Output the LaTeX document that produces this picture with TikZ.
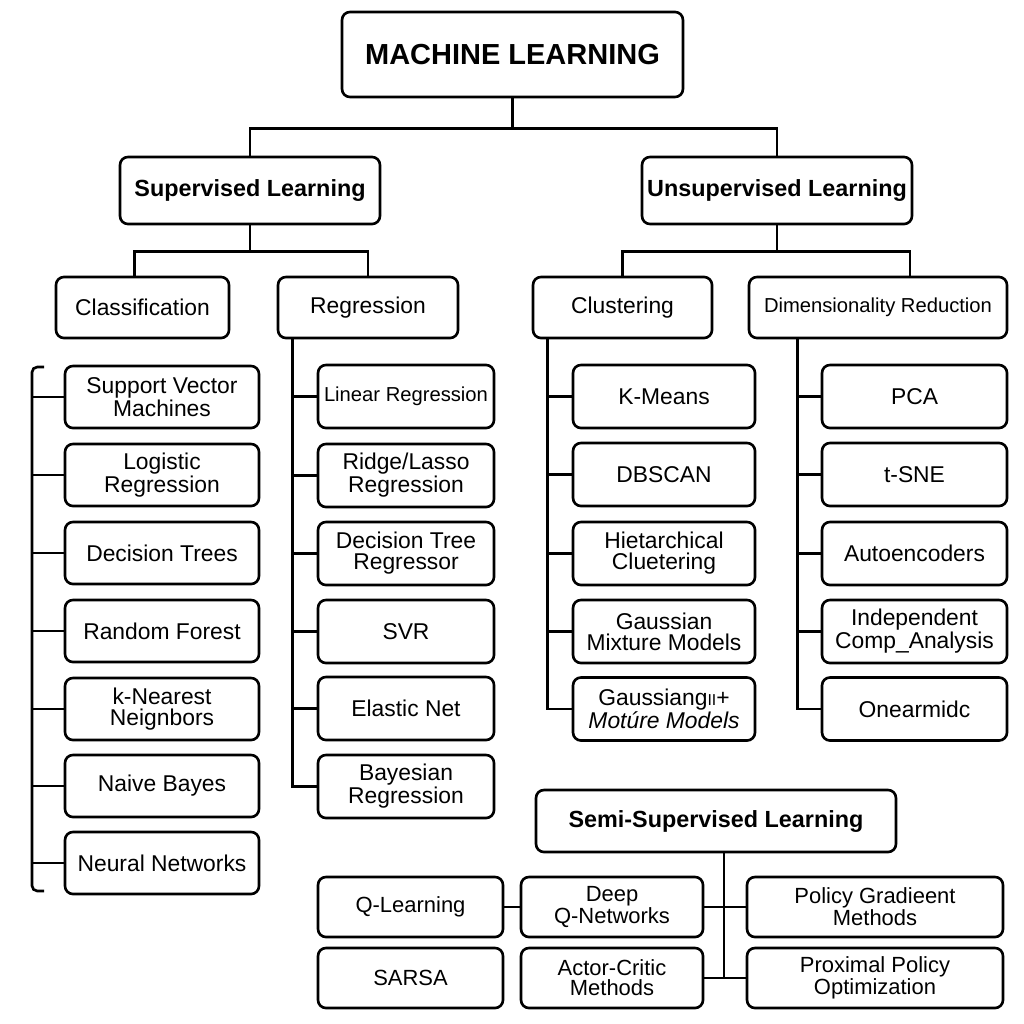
\documentclass[tikz,border=0pt]{standalone}
\usepackage{fontspec}
\setmainfont{Liberation Sans}
\usetikzlibrary{positioning,calc}

\begin{document}
\begin{tikzpicture}[x=0.02cm,y=-0.02cm,line width=1.5pt,
box/.style={draw,rounded corners=4.5pt,align=center,inner sep=1pt,
 font=\fontsize{13}{12}\selectfont},
head/.style={box,font=\fontsize{13.3}{15}\selectfont\bfseries,minimum height=1.34cm},
branch/.style={box,minimum height=1.22cm},
cbox/.style={box,minimum width=3.88cm,minimum height=1.24cm},
rbox/.style={box,minimum width=3.52cm,minimum height=1.26cm},
kbox/.style={box,minimum width=3.64cm,minimum height=1.26cm},
dbox/.style={box,minimum width=3.7cm,minimum height=1.26cm},
qbox/.style={box,minimum height=1.2cm,font=\fontsize{12.5}{11.5}\selectfont}]
\useasboundingbox (0,0) rectangle (1024,1024);

% top levels
\node[box,font=\fontsize{16.5}{18}\selectfont\bfseries,minimum width=6.82cm,minimum height=1.7cm] (ml) at (512.5,54.5) {MACHINE LEARNING};
\node[head,minimum width=5.2cm] (sup) at (250,190.5) {Supervised Learning};
\node[head,minimum width=5.4cm] (uns) at (777,190.5) {Unsupervised Learning};
\node[branch,minimum width=3.46cm] (cls) at (142.5,307.5) {Classification};
\node[branch,minimum width=3.6cm] (reg) at (368,307.5) {Regression};
\node[branch,minimum width=3.58cm] (clu) at (622.5,307.5) {Clustering};
\node[branch,minimum width=5.16cm,font=\fontsize{11.5}{12}\selectfont] (dim) at (878,307.5) {Dimensionality Reduction};

\draw (ml.south) -- ++(0,30) -| (sup.north);
\draw (ml.south) -- ++(0,30) -| (uns.north);
\draw (sup.south) -- ++(0,26) -| ($(cls.north)+(-8,0)$);
\draw (sup.south) -- ++(0,26) -| (reg.north);
\draw (uns.south) -- ++(0,26) -| (clu.north);
\draw (uns.south) -- ++(0,26) -| ($(dim.north)+(32,0)$);

% classification
\node[cbox] (svm) at (162,397) {Support Vector\\Machines};
\node[cbox] (log) at (162,475) {Logistic\\Regression};
\node[cbox] (dtr) at (162,553) {Decision Trees};
\node[cbox] (rfo) at (162,631) {Random Forest};
\node[cbox] (knn) at (162,709) {k-Nearest\\Neignbors};
\node[cbox] (nbs) at (162,786) {Naive Bayes};
\node[cbox] (nnw) at (162,863) {Neural Networks};

\coordinate (bk) at (32,367);
\draw[rounded corners=3pt] (44,367) -- (bk) -- (32,891) -- (44,891);
\draw (bk |- svm.west) -- (svm.west);
\draw (bk |- log.west) -- (log.west);
\draw (bk |- dtr.west) -- (dtr.west);
\draw (bk |- rfo.west) -- (rfo.west);
\draw (bk |- knn.west) -- (knn.west);
\draw (bk |- nbs.west) -- (nbs.west);
\draw (bk |- nnw.west) -- (nnw.west);

% regression
\node[rbox,font=\fontsize{11.5}{12}\selectfont] (lin) at (406,396.5) {Linear Regression};
\node[rbox] (rid) at (406,475.5) {Ridge/Lasso\\Regression};
\node[rbox] (dtg) at (406,553.5) {Decision Tree\\Regressor};
\node[rbox] (svr) at (406,631.5) {SVR};
\node[rbox] (ela) at (406,708.5) {Elastic Net};
\node[rbox] (bay) at (406,786.5) {Bayesian\\Regression};

\coordinate (rt) at ($(reg.south west)+(16,0)$);
\draw (rt) |- (bay.west);
\draw (rt |- lin.west) -- (lin.west);
\draw (rt |- rid.west) -- (rid.west);
\draw (rt |- dtg.west) -- (dtg.west);
\draw (rt |- svr.west) -- (svr.west);
\draw (rt |- ela.west) -- (ela.west);

% clustering
\node[kbox] (kme) at (664,396.5) {K-Means};
\node[kbox] (dbs) at (664,474.5) {DBSCAN};
\node[kbox] (hie) at (664,553.5) {Hietarchical\\Cluetering};
\node[kbox] (gmm) at (664,631.5) {Gaussian\\Mixture Models};
\node[kbox] (gmx) at (664,709) {Gaussiang{\fontsize{9}{9}\selectfont II}+\\\textit{Motúre Models}};

\coordinate (kt) at ($(clu.south west)+(16,0)$);
\draw (kt) |- (gmx.west);
\draw (kt |- kme.west) -- (kme.west);
\draw (kt |- dbs.west) -- (dbs.west);
\draw (kt |- hie.west) -- (hie.west);
\draw (kt |- gmm.west) -- (gmm.west);

% dimensionality reduction
\node[dbox] (pca) at (914.5,396.5) {PCA};
\node[dbox] (tsn) at (914.5,474.5) {t-SNE};
\node[dbox] (aut) at (914.5,553.5) {Autoencoders};
\node[dbox] (ica) at (914.5,631.5) {Independent\\Comp\_Analysis};
\node[dbox] (one) at (914.5,709) {Onearmidc};

\coordinate (dt) at ($(dim.south west)+(50,0)$);
\draw (dt) |- (one.west);
\draw (dt |- pca.west) -- (pca.west);
\draw (dt |- tsn.west) -- (tsn.west);
\draw (dt |- aut.west) -- (aut.west);
\draw (dt |- ica.west) -- (ica.west);

% semi-supervised
\node[head,minimum width=7.2cm,minimum height=1.24cm] (semi) at (716,821) {Semi-Supervised Learning};
\node[qbox,minimum width=3.7cm] (qle) at (410.5,907) {Q-Learning};
\node[qbox,minimum width=3.64cm] (dqn) at (612,907) {Deep\\Q-Networks};
\node[qbox,minimum width=5.12cm] (pgm) at (875,907) {Policy Gradieent\\Methods};
\node[qbox,minimum width=3.7cm] (sar) at (410.5,978) {SARSA};
\node[qbox,minimum width=3.64cm] (act) at (612,978) {Actor-Critic\\Methods};
\node[qbox,minimum width=5.12cm] (ppo) at (875,978) {Proximal Policy\\Optimization};

\coordinate (st) at ($(semi.south)+(8,0)$);
\draw (st) -- (st |- ppo.west);
\draw (qle.east) -- (dqn.west);
\draw (dqn.east) -- (pgm.west);
\draw (act.east) -- (ppo.west);
\end{tikzpicture}
\end{document}
